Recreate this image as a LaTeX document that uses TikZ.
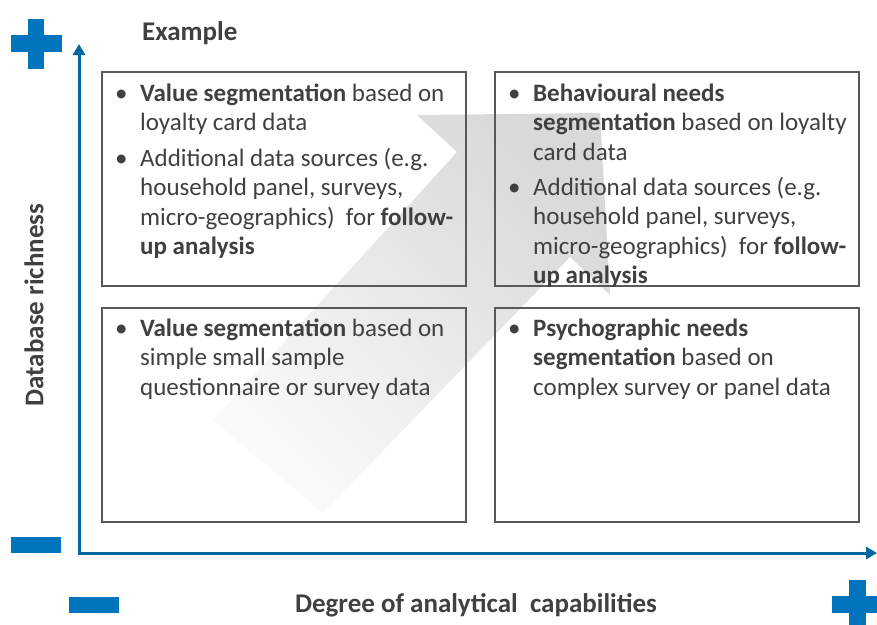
\documentclass[tikz,border=0pt]{standalone}
\usepackage{fontspec}
\setmainfont{Carlito}
\usetikzlibrary{arrows.meta}
\definecolor{axisblue}{RGB}{0,104,158}
\definecolor{signblue}{RGB}{0,117,190}
\definecolor{txt}{RGB}{64,64,64}
\definecolor{boxline}{RGB}{89,89,89}
\newcommand\bitem[1]{\makebox[25pt][l]{\textbullet}\parbox[t]{330pt}{\raggedright #1}}
\begin{document}
\begin{tikzpicture}[x=1pt,y=-1pt,
  quad/.style={draw=boxline, line width=1.1pt, minimum width=364pt, minimum height=214pt, inner sep=0pt},
  bodytext/.style={anchor=base west, inner sep=0pt, text=txt, font=\fontsize{25}{29.5}\selectfont},
  label/.style={inner sep=0pt, text=txt, font=\fontsize{27}{31}\selectfont\bfseries},
  axis/.style={draw=axisblue, line width=3pt, {Triangle[width=12pt,length=11pt]}-{Triangle[width=12pt,length=11pt]}},
  sign/.style={fill=signblue}]
\useasboundingbox (0,0) rectangle (877,624);
% big grey arrow
\shade[top color=black!15, bottom color=black!2, shading angle=-45]
  (213,420) -- (457,152) -- (417,115) -- (600,113) -- (610,295) -- (570,257) -- (323,513) -- cycle;
% quadrant boxes
\node[quad] (ul) at (284,179) {};
\node[quad] (ur) at (677,179) {};
\node[quad] (ll) at (284,415) {};
\node[quad] (lr) at (677,415) {};
% axes
\coordinate (ytip) at (79,44);
\coordinate (origin) at (79,553);
\coordinate (xtip) at (877,553);
\draw[axis] (ytip) -- (origin) -- (xtip);
% plus / minus signs
\fill[sign] (11,35) rectangle (62,52);
\fill[sign] (28,19) rectangle (44,69);
\fill[sign] (11,537) rectangle (61,553);
\fill[sign] (69,597) rectangle (119,613);
\fill[sign] (832,596) rectangle (880,613);
\fill[sign] (849,580) rectangle (866,626);
% labels
\node[label, anchor=west] (example) at (142,33) {Example};
\node[label, rotate=90] (ylabel) at (34,305) {Database richness};
\node[label] (xlabel) at (476,605) {Degree of analytical\ \ capabilities};
% texts
\node[bodytext] (t1a) at (115,101) {\bitem{\textbf{Value segmentation} based on\\loyalty card data}};
\node[bodytext] (t1b) at (115,166) {\bitem{Additional data sources (e.g.\\household panel, surveys,\\micro-geographics)\ \ for \textbf{follow-}\\\textbf{up analysis}}};
\node[bodytext] (t2a) at (508,101) {\bitem{\textbf{Behavioural needs}\\\textbf{segmentation} based on loyalty\\card data}};
\node[bodytext] (t2b) at (508,195) {\bitem{Additional data sources (e.g.\\household panel, surveys,\\micro-geographics)\ \ for \textbf{follow-}\\\textbf{up analysis}}};
\node[bodytext] (t3) at (115,336) {\bitem{\textbf{Value segmentation} based on\\simple small sample\\questionnaire or survey data}};
\node[bodytext] (t4) at (508,336) {\bitem{\textbf{Psychographic needs}\\\textbf{segmentation} based on\\complex survey or panel data}};
\end{tikzpicture}
\end{document}
